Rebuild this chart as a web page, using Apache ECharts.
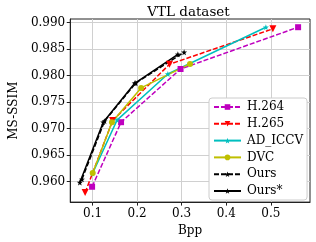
<!DOCTYPE html>
<html>
<head>
<meta charset="utf-8">
<script src="https://cdn.jsdelivr.net/npm/echarts@6/dist/echarts.min.js"></script>
<style>html,body{margin:0;padding:0;background:#fff}#c{width:316px;height:242px}</style>
</head>
<body>
<div id="c"></div>
<script>
const seriesNames = ['H.264', 'H.265', 'AD_ICCV', 'DVC', 'Ours', 'Ours*'];
const h264 = [[0.099, 0.9590], [0.164, 0.9712], [0.2975, 0.98125], [0.5613, 0.98915]];
const h265 = [[0.0834, 0.9579], [0.145, 0.9715], [0.2727, 0.98215], [0.5047, 0.98884]];
const adIccv = [[0.100, 0.9615], [0.155, 0.9716], [0.269, 0.9803], [0.489, 0.98915]];
const dvc = [[0.1004, 0.9616], [0.1436, 0.9712], [0.209, 0.97768], [0.3187, 0.98222]];
const ours = [[0.0762, 0.9604], [0.127, 0.9714], [0.197, 0.9786], [0.3055, 0.98442]];
const oursStar = [[0.0715, 0.9598], [0.124, 0.9712], [0.1947, 0.97855], [0.2915, 0.98402]];
const xTicks = [0.1, 0.2, 0.3, 0.4, 0.5];
const yTicks = [0.960, 0.965, 0.970, 0.975, 0.980, 0.985, 0.990];

const star = 'path://M0,-10 L2.35,-3.24 L9.51,-3.09 L3.8,1.24 L5.88,8.09 L0,4 L-5.88,8.09 L-3.8,1.24 L-9.51,-3.09 L-2.35,-3.24 Z';
const font = 'DejaVu Serif';

function mk(name, data, color, dashed, symbol, size, rotate) {
  return {
    name: name, type: 'line', data: data,
    symbol: symbol, symbolSize: size, symbolRotate: rotate || 0,
    showSymbol: true,
    itemStyle: { color: color },
    lineStyle: { color: color, width: 1.5, type: dashed ? [5, 2] : 'solid' },
    emphasis: { disabled: true },
    animation: false
  };
}

const chart = echarts.init(document.getElementById('c'), null, { renderer: 'canvas' });
chart.setOption({
  animation: false,
  title: {
    text: 'VTL dataset', left: 183.5, top: 0, textAlign: 'center',
    textStyle: { fontFamily: font, fontSize: 13.5, fontWeight: 'normal', color: '#000' }
  },
  grid: { left: 57, right: 6, top: 19, bottom: 35, show: true, borderColor: '#222', borderWidth: 1, containLabel: false },
  xAxis: {
    type: 'value', min: 0.05, max: 0.588,
    name: 'Bpp', nameLocation: 'middle', nameGap: 16,
    nameTextStyle: { fontFamily: font, fontSize: 12, color: '#000' },
    axisLine: { show: true, onZero: false, lineStyle: { color: '#222' } },
    axisTick: { show: true, customValues: xTicks, length: 3.5, lineStyle: { color: '#222' } },
    axisLabel: { customValues: xTicks, margin: 6, fontFamily: font, fontSize: 12, color: '#000', formatter: v => v.toFixed(1) },
    splitLine: { show: true, lineStyle: { color: '#d0d0d0', width: 1 } }
  },
  yAxis: {
    type: 'value', min: 0.9561, max: 0.9907,
    name: 'MS-SSIM', nameLocation: 'middle', nameGap: 40,
    nameTextStyle: { fontFamily: font, fontSize: 12, color: '#000' },
    axisLine: { show: true, onZero: false, lineStyle: { color: '#222' } },
    axisTick: { show: true, customValues: yTicks, length: 3.5, lineStyle: { color: '#222' } },
    axisLabel: { customValues: yTicks, margin: 5, fontFamily: font, fontSize: 12, color: '#000', formatter: v => v.toFixed(3) },
    splitLine: { show: true, lineStyle: { color: '#d0d0d0', width: 1 } }
  },
  legend: {
    data: seriesNames, orient: 'vertical', left: 209, top: 98,
    backgroundColor: '#fff', borderColor: '#cccccc', borderWidth: 1, borderRadius: 3,
    padding: [3, 4, 3, 4], itemGap: 4.8, itemWidth: 27, itemHeight: 7,
    textStyle: { fontFamily: font, fontSize: 12, color: '#000', padding: [0, 0, 0, 1] },
    selectedMode: false
  },
  series: [
    mk('H.264', h264, '#bf00bf', true, 'rect', 6),
    mk('H.265', h265, '#ff0000', true, 'triangle', 7, 180),
    mk('AD_ICCV', adIccv, '#00bfbf', false, star, 6),
    mk('DVC', dvc, '#bfbf00', false, 'circle', 6),
    mk('Ours', ours, '#000000', true, star, 6),
    mk('Ours*', oursStar, '#000000', false, star, 6)
  ]
});
</script>
</body>
</html>
